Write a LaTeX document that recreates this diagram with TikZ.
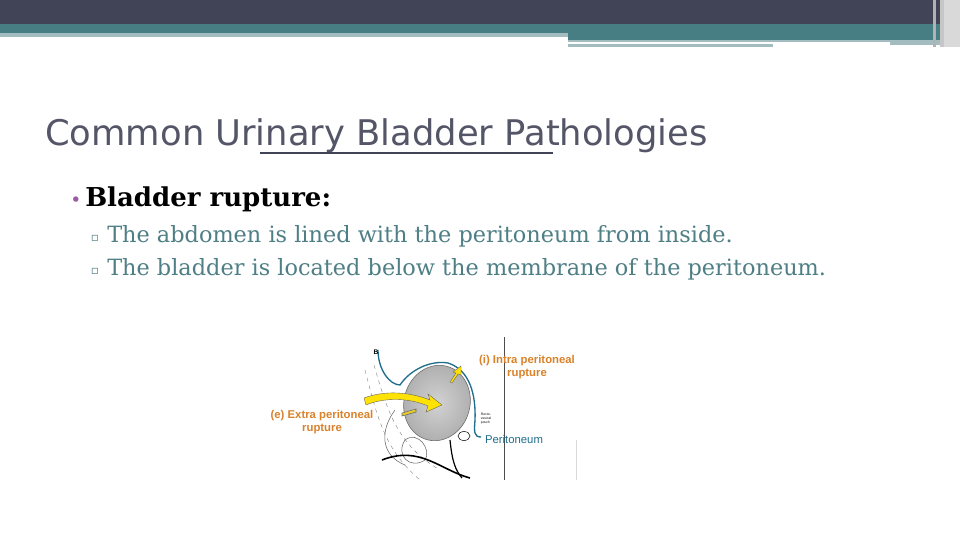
\documentclass[tikz,border=0pt]{standalone}
\usepackage{fontspec}
\setmainfont{DejaVu Serif}
\newfontfamily\titlefont{DejaVu Sans}
\newfontfamily\labfont{Liberation Sans}
\usetikzlibrary{arrows.meta}
\definecolor{dark}{HTML}{414356}
\definecolor{teal}{HTML}{467E83}
\definecolor{lteal}{HTML}{A3BCBF}
\definecolor{orangelab}{HTML}{D9822B}
\definecolor{perblue}{HTML}{1F6E8C}
\definecolor{txt}{HTML}{4E7F85}
\definecolor{bul}{HTML}{9B5BA0}
\tikzset{
  lab/.style={font=\labfont\bfseries\fontsize{8.5}{9.5}\selectfont, text=orangelab, align=center, inner sep=0pt},
  sub/.style={anchor=base west, font=\fontsize{16.8}{19}\selectfont, text=txt, inner sep=0pt},
  yarrow/.style={draw=black!60, fill=yellow!85!orange, line width=0.3pt},
}
\begin{document}
\begin{tikzpicture}[x=0.75pt,y=-0.75pt]
\useasboundingbox (0,0) rectangle (960,540);
\fill[white] (0,0) rectangle (960,540);
% header bars
\fill[dark] (0,0) rectangle (960,24);
\fill[teal] (0,24) rectangle (960,33);
\fill[lteal] (0,33) rectangle (568,37);
\fill[teal] (568,33) rectangle (960,40);
\fill[lteal] (568,40) rectangle (890,42);
\fill[lteal] (568,44) rectangle (773,47);
\fill[lteal] (890,40) rectangle (940,45);
\fill[gray!60] (933,0) rectangle (936,47);
\fill[gray!45] (940,0) rectangle (944,47);
\fill[gray!30] (944,0) rectangle (960,47);
% title
\node[anchor=base west, inner sep=0pt, font=\titlefont\fontsize{26.5}{30}\selectfont, text=dark!90] (title) at (45,145) {Common Urinary Bladder Pathologies};
\draw[dark, line width=1.5pt] (260,153) -- (553,153);
% bullets
\node[anchor=base, inner sep=0pt, text=bul, font=\fontsize{14}{16}\selectfont] (b0) at (76,206) {•};
\node[anchor=base west, inner sep=0pt, font=\bfseries\fontsize{19.5}{22}\selectfont, text=black] (t0) at (85,206) {Bladder rupture:};
\node[anchor=base, inner sep=0pt, text=txt, font=\titlefont\fontsize{9}{10}\selectfont] (b1) at (95,241) {▫};
\node[sub] (t1) at (107,242) {The abdomen is lined with the peritoneum from inside.};
\node[anchor=base, inner sep=0pt, text=txt, font=\titlefont\fontsize{9}{10}\selectfont] (b2) at (95,274) {▫};
\node[sub] (t2) at (107,275) {The bladder is located below the membrane of the peritoneum.};
% figure
\draw[black!70, line width=0.5pt] (504,337) -- (504,480);
\draw[black!15, line width=0.5pt] (576,440) -- (576,480);
% body contours
\draw[black!50, dashed, line width=0.3pt] (365,370) .. controls (378,420) and (385,450) .. (420,480);
\draw[black!50, dashed, line width=0.3pt] (374,365) .. controls (387,410) and (397,445) .. (440,470);
\draw[black!60, line width=0.4pt] (395,410) .. controls (380,430) and (380,455) .. (405,465);
\draw[black!60, line width=0.4pt] (405,440) .. controls (395,455) and (410,470) .. (425,460) .. controls (432,450) and (418,430) .. (405,440);
\draw[black, line width=1.2pt] (382,460) .. controls (420,445) and (440,470) .. (470,478);
\draw[black, line width=0.9pt] (450,440) .. controls (452,460) and (455,470) .. (462,478);
% bladder
\shade[inner color=gray!35, outer color=gray!65, draw=black!60, rotate around={-15:(437,403)}] (437,403) ellipse (33 and 38);
% peritoneum
\draw[perblue, line width=1pt] (378,350) .. controls (378,370) and (390,385) .. (400,385) .. controls (410,370) and (430,360) .. (448,363) .. controls (470,370) and (476,395) .. (475,420) .. controls (474,432) and (474,437) .. (481,437);
\fill[white, draw=black] (464,436) ellipse (6 and 4.5);
% arrows
\draw[yarrow] (364,398) .. controls (385,390) and (410,392) .. (430,400) -- (428,394) -- (442,405) -- (426,412) -- (428,406) .. controls (410,398) and (385,397) .. (366,405) -- cycle;
\draw[yarrow] (450,382) -- (456,373) -- (453,372) -- (461,366) -- (461,375) -- (458,374) -- (452,383) -- cycle;
\draw[black!60, fill=yellow!60!brown] (402,413) -- (416,409) -- (416,412) -- (402,416) -- cycle;
% labels
\node[font=\labfont\bfseries\fontsize{5}{6}\selectfont, inner sep=0pt] (B) at (376,352) {B};
\node[lab] (intra) at (527,367) {(i) Intra peritoneal\\rupture};
\node[lab] (extra) at (322,422) {(e) Extra peritoneal\\rupture};
\node[font=\labfont\fontsize{8.5}{10}\selectfont, text=perblue, inner sep=0pt] (per) at (514,439) {Peritoneum};
\node[font=\labfont\fontsize{2.5}{3}\selectfont, align=left, inner sep=0pt] (rv) at (486,419) {Recto-\\vesical\\pouch};
\end{tikzpicture}
\end{document}
